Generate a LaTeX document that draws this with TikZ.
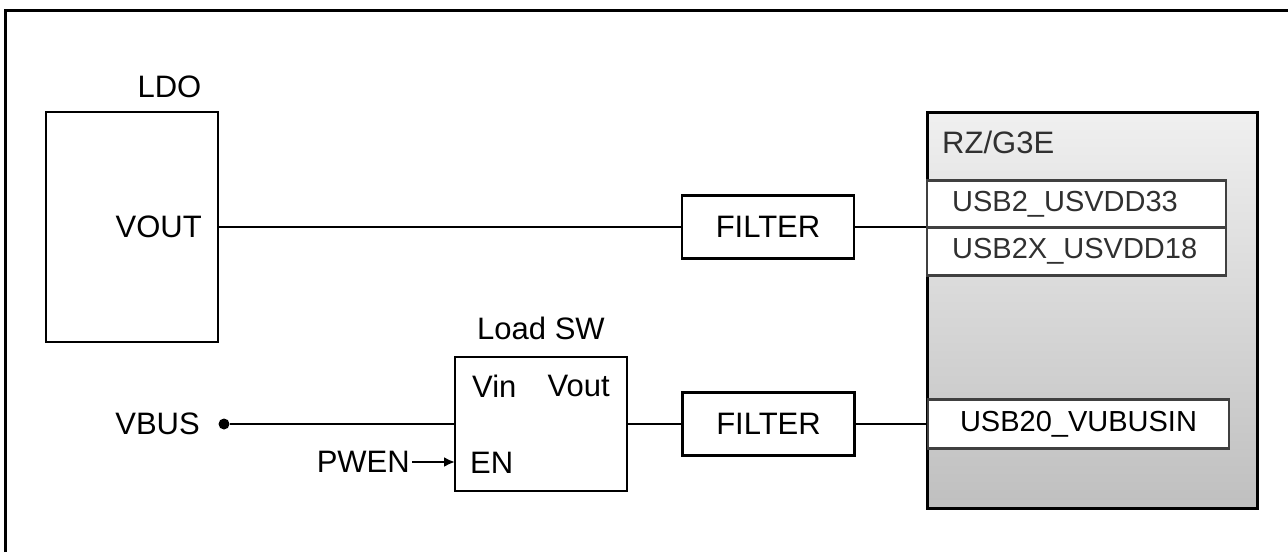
\documentclass[tikz,border=0pt]{standalone}
\usepackage{fontspec}
\setmainfont{Liberation Sans}
\usetikzlibrary{arrows.meta,shadows}
\definecolor{pinedge}{HTML}{404040}
\definecolor{pintext}{HTML}{303030}
\begin{document}
\begin{tikzpicture}[x=1pt,y=-1pt,
  big/.style={font=\fontsize{31}{36}\selectfont},
  pinf/.style={font=\fontsize{29}{33}\selectfont, text=pintext},
  blk/.style={draw=black, line width=2.8pt, fill=white, inner sep=0pt},
  pinbox/.style={draw=pinedge, line width=2.8pt, fill=white, inner sep=0pt, minimum width=299, minimum height=47.5},
  wire/.style={line width=2.8pt, draw=black},
  lbl/.style={big, inner sep=0pt}]
\useasboundingbox (0,0) rectangle (1288,552);
% outer frame (only left & top visible)
\draw[line width=3pt] (5,552) -- (5,10) -- (1288,10);

% LDO
\node[blk, minimum width=172, minimum height=230] (ldo) at (132,227) {};
\node[lbl] (ldol) at (169.5,87) {LDO};
\node[lbl, anchor=east] (vout) at (202,227) {VOUT};

% Filter 1
\node[blk, minimum width=172, minimum height=63, big] (f1) at (768,227) {FILTER};

% RZ/G3E
\node[draw=black, line width=3pt, minimum width=330, minimum height=396, inner sep=0pt,
      top color=black!6, bottom color=black!25, drop shadow={shadow xshift=1.5pt, shadow yshift=-1.5pt, opacity=0.4}] (rz) at (1092,310) {};
\node[lbl, anchor=west, text=pintext] (rzl) at (942,142) {RZ/G3E};
\node[pinbox] (p1) at (1076.5,204) {};
\node[pinf, anchor=west, inner sep=0pt] (p1t) at (952,204) {USB2\_USVDD33};
\node[pinbox] (p2) at (1076.5,251.5) {};
\node[pinf, anchor=west, inner sep=0pt] (p2t) at (952,251.5) {USB2X\_USVDD18};
\node[pinbox, minimum width=301, minimum height=49, pinf, text=black] (p3) at (1078.5,424) {USB20\_VUBUSIN};

% Load SW
\node[blk, minimum width=172, minimum height=134] (sw) at (541,424) {};
\node[lbl] (swl) at (541,328) {Load SW};
\node[lbl, anchor=west] (vin) at (472,386) {Vin};
\node[lbl, anchor=east] (vo) at (610,386) {Vout};
\node[lbl, anchor=west] (en) at (470,463) {EN};

% Filter 2
\node[blk, minimum width=172, minimum height=63, big] (f2) at (768.5,424) {FILTER};

% VBUS / PWEN
\node[lbl, anchor=east] (vbus) at (200,424) {VBUS};
\node[circle, fill=black, inner sep=0pt, minimum size=11] (dot) at (224,424) {};
\node[lbl, anchor=east] (pwen) at (410,462) {PWEN};
\coordinate (enin) at (455,462);

% wires
\draw[wire] (ldo.east |- vout) -- (f1.west);
\draw[wire] (f1.east) -- (f1.east -| p1.west);
\draw[wire] (dot) -- (sw.west |- dot);
\draw[wire] (sw.east |- f2) -- (f2.west);
\draw[wire] (f2.east) -- (p3.west);
\draw[wire, -{Latex[length=11,width=10]}] (pwen.east) ++(2,0) -- (enin);
\end{tikzpicture}
\end{document}
